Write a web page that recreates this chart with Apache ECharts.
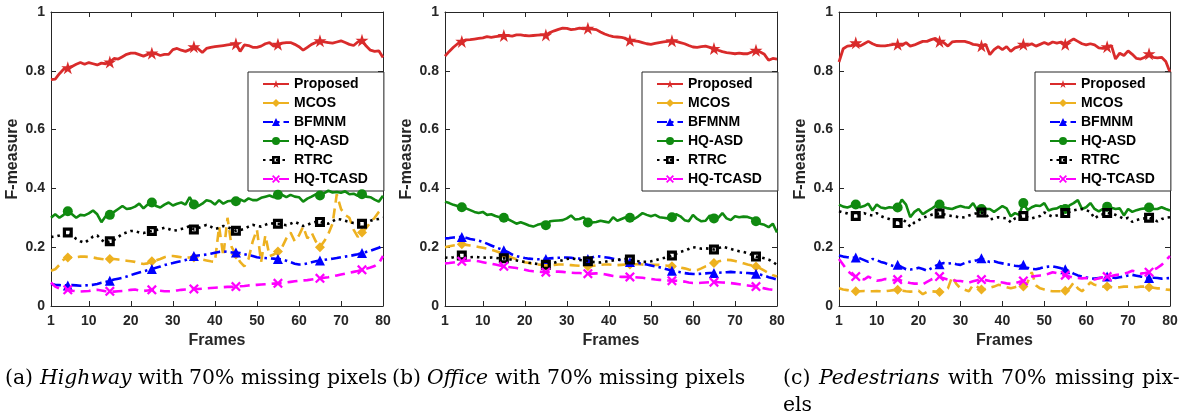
<!DOCTYPE html>
<html><head><meta charset="utf-8">
<script src="https://cdn.jsdelivr.net/npm/echarts@6/dist/echarts.min.js"></script>
<style>html,body{margin:0;padding:0;background:#fff;}#c{width:1185px;height:418px;}</style>
</head><body><div id="c"></div>
<script>
// ---------------- data ----------------
const frames = Array.from({length: 80}, (_, i) => i + 1);
const xTicks = [1, 10, 20, 30, 40, 50, 60, 70, 80];
const yTicks = [0, 0.2, 0.4, 0.6, 0.8, 1];
const markerFrames = [5, 15, 25, 35, 45, 55, 65, 75];
const methods = ['Proposed', 'MCOS', 'BFMNM', 'HQ-ASD', 'RTRC', 'HQ-TCASD'];
// caption words: [text, italic?]
const captionWords = [
  [['(a)', 0], ['Highway', 1], ['with', 0], ['70%', 0], ['missing', 0], ['pixels', 0]],
  [['(b)', 0], ['Office', 1], ['with', 0], ['70%', 0], ['missing', 0], ['pixels', 0]],
  [['(c)', 0], ['Pedestrians', 1], ['with', 0], ['70%', 0], ['missing', 0], ['pix-', 0]]
];
const captionTail = 'els';

// (a) Highway
const hwProposed = [0.770,0.772,0.790,0.805,0.810,0.815,0.822,0.828,0.822,0.828,0.824,0.820,0.826,0.824,0.830,0.842,0.840,0.848,0.856,0.860,0.860,0.855,0.850,0.856,0.860,0.858,0.852,0.856,0.856,0.872,0.876,0.870,0.866,0.872,0.882,0.875,0.862,0.876,0.880,0.882,0.884,0.886,0.888,0.890,0.892,0.866,0.888,0.886,0.880,0.880,0.884,0.892,0.896,0.884,0.890,0.894,0.896,0.896,0.890,0.882,0.870,0.880,0.890,0.896,0.902,0.898,0.896,0.894,0.898,0.902,0.896,0.890,0.886,0.898,0.904,0.884,0.870,0.866,0.868,0.845];
const hwMCOS = [0.120,0.125,0.140,0.158,0.165,0.165,0.166,0.168,0.168,0.167,0.165,0.162,0.160,0.158,0.160,0.160,0.158,0.156,0.154,0.152,0.150,0.146,0.143,0.145,0.152,0.155,0.160,0.166,0.170,0.170,0.168,0.166,0.164,0.165,0.165,0.162,0.158,0.155,0.152,0.150,0.270,0.170,0.300,0.200,0.175,0.150,0.135,0.160,0.220,0.260,0.150,0.240,0.170,0.175,0.185,0.200,0.230,0.250,0.220,0.240,0.270,0.230,0.250,0.220,0.200,0.220,0.245,0.280,0.380,0.330,0.310,0.300,0.260,0.235,0.250,0.265,0.285,0.300,0.320,0.335];
const hwBFMNM = [0.075,0.072,0.071,0.070,0.070,0.071,0.070,0.069,0.070,0.071,0.072,0.075,0.079,0.082,0.086,0.090,0.093,0.096,0.100,0.105,0.110,0.114,0.118,0.122,0.126,0.130,0.134,0.139,0.143,0.146,0.150,0.153,0.156,0.162,0.170,0.172,0.173,0.175,0.178,0.181,0.184,0.186,0.184,0.182,0.182,0.180,0.176,0.173,0.170,0.166,0.164,0.163,0.162,0.161,0.160,0.158,0.154,0.149,0.144,0.141,0.142,0.145,0.149,0.152,0.155,0.157,0.159,0.161,0.163,0.166,0.168,0.170,0.173,0.176,0.180,0.184,0.188,0.193,0.198,0.205];
const hwHQASD = [0.300,0.312,0.300,0.310,0.322,0.312,0.300,0.310,0.308,0.315,0.325,0.312,0.285,0.305,0.310,0.320,0.330,0.340,0.330,0.332,0.338,0.348,0.332,0.345,0.352,0.340,0.335,0.345,0.352,0.342,0.348,0.352,0.345,0.370,0.345,0.340,0.348,0.360,0.356,0.345,0.360,0.348,0.356,0.358,0.356,0.362,0.356,0.366,0.360,0.360,0.368,0.372,0.376,0.370,0.378,0.378,0.370,0.378,0.372,0.370,0.355,0.365,0.372,0.380,0.376,0.384,0.392,0.386,0.388,0.385,0.390,0.380,0.382,0.375,0.380,0.372,0.370,0.362,0.355,0.375];
const hwRTRC = [0.235,0.236,0.240,0.246,0.250,0.240,0.228,0.220,0.215,0.225,0.236,0.240,0.225,0.215,0.220,0.225,0.235,0.245,0.250,0.255,0.255,0.250,0.248,0.252,0.255,0.258,0.262,0.266,0.262,0.256,0.258,0.262,0.266,0.272,0.260,0.265,0.270,0.276,0.270,0.262,0.266,0.272,0.268,0.262,0.256,0.258,0.262,0.270,0.276,0.272,0.270,0.276,0.282,0.280,0.280,0.278,0.275,0.280,0.286,0.280,0.272,0.276,0.282,0.286,0.286,0.282,0.280,0.288,0.296,0.294,0.290,0.286,0.282,0.280,0.280,0.284,0.290,0.294,0.296,0.300];
const hwHQTCASD = [0.080,0.066,0.060,0.056,0.055,0.052,0.050,0.049,0.050,0.051,0.054,0.055,0.053,0.050,0.050,0.049,0.050,0.051,0.053,0.055,0.056,0.053,0.051,0.053,0.055,0.054,0.052,0.050,0.050,0.051,0.053,0.055,0.056,0.057,0.058,0.058,0.059,0.060,0.061,0.062,0.063,0.064,0.065,0.065,0.066,0.067,0.068,0.070,0.071,0.072,0.073,0.074,0.075,0.076,0.077,0.078,0.080,0.082,0.084,0.086,0.087,0.088,0.090,0.092,0.094,0.096,0.098,0.101,0.104,0.107,0.110,0.113,0.116,0.119,0.123,0.127,0.131,0.136,0.145,0.170];

// (b) Office
const ofProposed = [0.850,0.866,0.880,0.892,0.900,0.905,0.906,0.908,0.910,0.912,0.916,0.914,0.916,0.918,0.920,0.920,0.918,0.922,0.922,0.920,0.919,0.920,0.921,0.922,0.922,0.930,0.936,0.941,0.945,0.944,0.940,0.942,0.945,0.943,0.945,0.942,0.940,0.932,0.925,0.920,0.916,0.915,0.914,0.910,0.904,0.902,0.900,0.896,0.892,0.890,0.893,0.896,0.898,0.900,0.902,0.900,0.896,0.892,0.886,0.881,0.880,0.882,0.884,0.880,0.876,0.870,0.865,0.862,0.860,0.858,0.860,0.858,0.858,0.864,0.870,0.864,0.856,0.836,0.842,0.840];
const ofMCOS = [0.200,0.203,0.206,0.208,0.210,0.208,0.206,0.204,0.201,0.198,0.195,0.191,0.187,0.182,0.177,0.170,0.164,0.159,0.153,0.149,0.146,0.143,0.141,0.140,0.139,0.139,0.140,0.141,0.141,0.140,0.139,0.138,0.137,0.136,0.135,0.136,0.138,0.140,0.141,0.141,0.140,0.139,0.140,0.141,0.141,0.142,0.142,0.141,0.140,0.140,0.140,0.140,0.138,0.137,0.135,0.133,0.131,0.128,0.124,0.121,0.122,0.128,0.135,0.140,0.146,0.151,0.155,0.157,0.156,0.153,0.149,0.145,0.141,0.138,0.134,0.128,0.120,0.112,0.105,0.100];
const ofBFMNM = [0.230,0.231,0.233,0.234,0.235,0.232,0.228,0.225,0.222,0.218,0.212,0.206,0.200,0.195,0.190,0.183,0.175,0.170,0.166,0.163,0.161,0.160,0.159,0.159,0.160,0.162,0.163,0.164,0.165,0.165,0.164,0.162,0.161,0.160,0.160,0.165,0.170,0.168,0.166,0.164,0.161,0.158,0.155,0.152,0.150,0.148,0.146,0.144,0.141,0.138,0.135,0.132,0.128,0.124,0.120,0.118,0.115,0.112,0.110,0.109,0.109,0.110,0.111,0.112,0.112,0.113,0.114,0.115,0.116,0.115,0.114,0.113,0.112,0.111,0.110,0.107,0.103,0.098,0.094,0.090];
const ofHQASD = [0.355,0.350,0.344,0.340,0.336,0.332,0.326,0.320,0.316,0.320,0.310,0.312,0.306,0.302,0.300,0.295,0.288,0.280,0.285,0.280,0.274,0.270,0.276,0.280,0.275,0.288,0.290,0.291,0.292,0.298,0.308,0.294,0.296,0.302,0.284,0.284,0.286,0.290,0.287,0.284,0.302,0.290,0.296,0.302,0.300,0.296,0.305,0.316,0.310,0.305,0.310,0.302,0.300,0.298,0.302,0.312,0.305,0.292,0.288,0.310,0.296,0.288,0.290,0.308,0.298,0.300,0.316,0.298,0.292,0.305,0.302,0.304,0.303,0.298,0.288,0.280,0.276,0.268,0.280,0.250];
const ofRTRC = [0.165,0.163,0.166,0.170,0.172,0.168,0.166,0.167,0.166,0.165,0.164,0.165,0.164,0.162,0.162,0.160,0.157,0.155,0.152,0.150,0.147,0.145,0.143,0.141,0.140,0.143,0.147,0.152,0.156,0.160,0.162,0.160,0.157,0.155,0.152,0.150,0.149,0.148,0.150,0.153,0.155,0.157,0.159,0.160,0.158,0.155,0.152,0.150,0.150,0.152,0.155,0.160,0.163,0.167,0.172,0.178,0.184,0.188,0.194,0.200,0.198,0.195,0.196,0.195,0.192,0.196,0.202,0.198,0.194,0.190,0.186,0.184,0.180,0.174,0.168,0.166,0.162,0.158,0.150,0.140];
const ofHQTCASD = [0.145,0.146,0.148,0.150,0.152,0.154,0.155,0.154,0.152,0.149,0.146,0.144,0.141,0.138,0.135,0.133,0.131,0.129,0.126,0.123,0.120,0.118,0.117,0.116,0.115,0.116,0.117,0.117,0.116,0.114,0.113,0.112,0.112,0.111,0.110,0.110,0.111,0.110,0.108,0.105,0.102,0.100,0.099,0.099,0.099,0.098,0.097,0.096,0.094,0.092,0.090,0.089,0.088,0.087,0.086,0.086,0.085,0.083,0.080,0.078,0.078,0.079,0.080,0.081,0.081,0.081,0.080,0.079,0.078,0.076,0.074,0.072,0.070,0.068,0.066,0.063,0.060,0.057,0.055,0.058];

// (c) Pedestrians
const peProposed = [0.830,0.875,0.884,0.886,0.895,0.884,0.892,0.900,0.892,0.886,0.885,0.885,0.887,0.890,0.890,0.886,0.896,0.884,0.888,0.894,0.900,0.900,0.906,0.910,0.900,0.896,0.884,0.898,0.900,0.900,0.900,0.896,0.890,0.888,0.885,0.890,0.855,0.872,0.882,0.872,0.882,0.866,0.878,0.882,0.890,0.886,0.892,0.884,0.890,0.896,0.890,0.898,0.894,0.898,0.890,0.900,0.908,0.900,0.892,0.888,0.892,0.888,0.878,0.876,0.882,0.886,0.840,0.860,0.852,0.868,0.856,0.842,0.840,0.846,0.858,0.846,0.844,0.846,0.832,0.795];
const peMCOS = [0.060,0.056,0.054,0.052,0.050,0.050,0.051,0.050,0.050,0.051,0.050,0.050,0.052,0.054,0.055,0.052,0.050,0.049,0.050,0.052,0.040,0.048,0.050,0.049,0.048,0.050,0.060,0.100,0.075,0.060,0.055,0.050,0.072,0.065,0.056,0.058,0.062,0.066,0.072,0.070,0.064,0.060,0.064,0.068,0.066,0.080,0.115,0.070,0.060,0.056,0.052,0.050,0.050,0.050,0.052,0.060,0.080,0.060,0.050,0.065,0.080,0.072,0.070,0.066,0.066,0.064,0.062,0.064,0.066,0.066,0.065,0.064,0.066,0.066,0.064,0.062,0.060,0.060,0.056,0.055];
const peBFMNM = [0.172,0.168,0.166,0.164,0.165,0.162,0.156,0.150,0.160,0.156,0.150,0.146,0.140,0.136,0.140,0.132,0.125,0.124,0.126,0.130,0.126,0.120,0.128,0.136,0.142,0.146,0.144,0.146,0.142,0.140,0.146,0.150,0.152,0.156,0.162,0.154,0.150,0.152,0.148,0.145,0.142,0.140,0.137,0.135,0.140,0.130,0.126,0.125,0.128,0.132,0.134,0.135,0.132,0.128,0.125,0.118,0.110,0.104,0.100,0.097,0.094,0.093,0.095,0.097,0.100,0.098,0.095,0.098,0.100,0.104,0.106,0.103,0.100,0.098,0.095,0.096,0.095,0.093,0.094,0.095];
const peHQASD = [0.345,0.338,0.335,0.340,0.345,0.336,0.340,0.348,0.325,0.345,0.335,0.332,0.336,0.334,0.335,0.362,0.345,0.302,0.320,0.330,0.312,0.322,0.330,0.340,0.345,0.336,0.332,0.330,0.336,0.340,0.336,0.334,0.350,0.326,0.330,0.330,0.330,0.320,0.330,0.340,0.332,0.305,0.316,0.310,0.350,0.326,0.336,0.342,0.340,0.350,0.325,0.330,0.332,0.340,0.330,0.342,0.350,0.360,0.330,0.336,0.350,0.330,0.322,0.330,0.338,0.334,0.330,0.332,0.308,0.330,0.320,0.326,0.330,0.332,0.335,0.330,0.330,0.336,0.330,0.325];
const peRTRC = [0.322,0.318,0.315,0.310,0.306,0.312,0.316,0.310,0.308,0.316,0.306,0.300,0.296,0.290,0.282,0.296,0.286,0.270,0.284,0.292,0.300,0.305,0.310,0.312,0.315,0.312,0.308,0.306,0.304,0.300,0.302,0.308,0.312,0.316,0.318,0.314,0.294,0.298,0.302,0.300,0.298,0.285,0.298,0.302,0.306,0.302,0.298,0.302,0.306,0.318,0.310,0.304,0.308,0.312,0.316,0.320,0.325,0.328,0.330,0.326,0.320,0.298,0.308,0.312,0.316,0.314,0.310,0.304,0.296,0.300,0.286,0.292,0.296,0.298,0.300,0.294,0.288,0.296,0.300,0.302];
const peHQTCASD = [0.160,0.140,0.120,0.108,0.100,0.094,0.090,0.100,0.092,0.086,0.088,0.092,0.090,0.088,0.090,0.086,0.082,0.078,0.076,0.076,0.074,0.082,0.090,0.096,0.100,0.094,0.090,0.088,0.086,0.085,0.082,0.080,0.084,0.088,0.090,0.088,0.085,0.084,0.082,0.080,0.077,0.075,0.078,0.082,0.085,0.094,0.100,0.102,0.104,0.106,0.110,0.115,0.112,0.108,0.105,0.100,0.096,0.095,0.094,0.095,0.092,0.090,0.094,0.098,0.100,0.102,0.105,0.108,0.110,0.114,0.120,0.116,0.110,0.112,0.115,0.122,0.130,0.140,0.155,0.170];

const panels = [
  [hwProposed, hwMCOS, hwBFMNM, hwHQASD, hwRTRC, hwHQTCASD],
  [ofProposed, ofMCOS, ofBFMNM, ofHQASD, ofRTRC, ofHQTCASD],
  [peProposed, peMCOS, peBFMNM, peHQASD, peRTRC, peHQTCASD]
];

// ---------------- styles ----------------
const STAR = 'path://M50,0 L61.2,34.5 L97.6,34.5 L68.2,55.9 L79.4,90.5 L50,69.1 L20.6,90.5 L31.8,55.9 L2.4,34.5 L38.8,34.5 Z';
const XMARK = 'path://M0,16 L16,0 L50,34 L84,0 L100,16 L66,50 L100,84 L84,100 L50,66 L16,100 L0,84 L34,50 Z';
const HOLLOWSQ = 'path://M0,0 L100,0 L100,100 L0,100 Z M32,32 L32,68 L68,68 L68,32 Z';
const styles = [
  {color: '#D92B2B', symbol: STAR, size: 13, dash: 'solid', width: 2.8},
  {color: '#EDB120', symbol: 'diamond', size: 10, dash: [10, 6], width: 2.6},
  {color: '#0000FF', symbol: 'triangle', size: 10, dash: [10, 4, 2.5, 4], width: 2.6},
  {color: '#108A10', symbol: 'circle', size: 10, dash: 'solid', width: 2.6},
  {color: '#000000', symbol: HOLLOWSQ, size: 10, dash: [2.5, 4], width: 2.6},
  {color: '#FF00FF', symbol: XMARK, size: 10, dash: [10, 6], width: 2.6}
];

const gridLefts = [51, 445, 839];
const gridWidths = [332, 332, 331];
// caption lines: [left, right, justify?]
const captionBoxes = [[5, 388, false], [392, 775, false], [783, 1180, true]];
const AX = '#262626';
const FONT = '"Liberation Sans", Arial, sans-serif';
const SERIF = '"DejaVu Serif", serif';
const CAP_SIZE = 20.4;

const measureCtx = document.createElement('canvas').getContext('2d');
function textWidth(t, italic) {
  measureCtx.font = (italic ? 'italic ' : '') + CAP_SIZE + 'px ' + SERIF;
  return measureCtx.measureText(t).width;
}

const grids = [], xAxes = [], yAxes = [], series = [], legends = [], graphics = [];
gridLefts.forEach((l, g) => {
  grids.push({left: l, top: 12, width: gridWidths[g], height: 294, containLabel: false});
  const tick = {show: true, inside: true, length: 5, lineStyle: {color: AX, width: 1}};
  xAxes.push({type: 'value', gridIndex: g, position: 'bottom', min: 1, max: 80,
    axisLine: {show: true, onZero: false, lineStyle: {color: AX, width: 1}},
    axisTick: Object.assign({customValues: xTicks}, tick),
    axisLabel: {customValues: xTicks, color: AX, fontFamily: FONT, fontWeight: 'bold', fontSize: 14, margin: 8},
    splitLine: {show: false},
    name: 'Frames', nameLocation: 'middle', nameGap: 25,
    nameTextStyle: {color: AX, fontFamily: FONT, fontWeight: 'bold', fontSize: 16}});
  xAxes.push({type: 'value', gridIndex: g, position: 'top', min: 1, max: 80,
    axisLine: {show: true, onZero: false, lineStyle: {color: AX, width: 1}},
    axisTick: Object.assign({customValues: xTicks}, tick),
    axisLabel: {show: false}, splitLine: {show: false}});
  yAxes.push({type: 'value', gridIndex: g, position: 'left', min: 0, max: 1, interval: 0.2,
    axisLine: {show: true, onZero: false, lineStyle: {color: AX, width: 1}},
    axisTick: tick,
    axisLabel: {color: AX, fontFamily: FONT, fontWeight: 'bold', fontSize: 14, margin: 6,
      formatter: v => String(yTicks.find(t => Math.abs(t - v) < 1e-9) ?? v)},
    splitLine: {show: false},
    name: 'F-measure', nameLocation: 'middle', nameGap: 30,
    nameTextStyle: {color: AX, fontFamily: FONT, fontWeight: 'bold', fontSize: 16}});
  yAxes.push({type: 'value', gridIndex: g, position: 'right', min: 0, max: 1, interval: 0.2,
    axisLine: {show: true, onZero: false, lineStyle: {color: AX, width: 1}},
    axisTick: tick, axisLabel: {show: false}, splitLine: {show: false}});

  panels[g].forEach((vals, k) => {
    const st = styles[k];
    series.push({
      type: 'line', name: methods[k], xAxisIndex: 2 * g, yAxisIndex: 2 * g,
      data: vals.map((v, i) => [frames[i], v]),
      symbol: st.symbol,
      symbolSize: (val, p) => markerFrames.includes(frames[p.dataIndex]) ? st.size : 0,
      showSymbol: true, showAllSymbol: true,
      lineStyle: {color: st.color, width: st.width, type: st.dash},
      itemStyle: {color: st.color, borderWidth: 0},
      emphasis: {disabled: true},
      z: 2 + k,
      animation: false
    });
  });

  legends.push({
    data: methods, orient: 'vertical',
    left: l + gridWidths[g] - 135, top: 72,
    itemWidth: 26, itemHeight: 10, itemGap: 5,
    padding: [5, 16, 5, 14],
    backgroundColor: '#fff', borderColor: AX, borderWidth: 1,
    textStyle: {color: '#000', fontFamily: FONT, fontWeight: 'bold', fontSize: 14, lineHeight: 14},
    selectedMode: false
  });

  // caption line (justified only when the paragraph wraps)
  const words = captionWords[g];
  const [x0, x1, justify] = captionBoxes[g];
  const widths = words.map(w => textWidth(w[0], w[1]));
  const total = widths.reduce((a, b) => a + b, 0);
  const gap = justify ? (x1 - x0 - total) / (words.length - 1) : textWidth(' ', false);
  let x = x0;
  words.forEach((w, i) => {
    graphics.push({
      type: 'text', left: Math.round(x), top: 369,
      style: {text: w[0], fontFamily: SERIF, fontSize: CAP_SIZE, fontStyle: w[1] ? 'italic' : 'normal', fill: '#000'}
    });
    x += widths[i] + gap;
  });
});
graphics.push({
  type: 'text', left: 783, top: 396,
  style: {text: captionTail, fontFamily: SERIF, fontSize: CAP_SIZE, fill: '#000'}
});

const chart = echarts.init(document.getElementById('c'), null, {renderer: 'canvas'});
chart.setOption({
  animation: false,
  backgroundColor: '#fff',
  grid: grids, xAxis: xAxes, yAxis: yAxes, series: series, legend: legends,
  graphic: graphics
});
</script></body></html>
